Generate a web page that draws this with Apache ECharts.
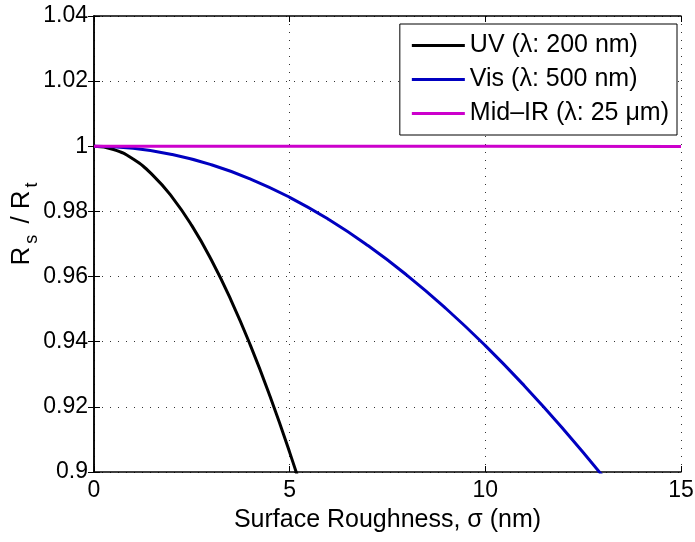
<!DOCTYPE html>
<html>
<head>
<meta charset="utf-8">
<script src="https://cdn.jsdelivr.net/npm/echarts@6/dist/echarts.min.js"></script>
<style>html,body{margin:0;padding:0;background:#fff}#c{width:695px;height:542px}</style>
</head>
<body>
<div id="c"></div>
<script>
// Data
var uvX = [0, 0.5, 1, 1.5, 2, 2.5, 3, 3.5, 4, 4.5, 5, 5.5];
var uvY = [1, 0.99901, 0.99606, 0.99116, 0.98433, 0.97563, 0.96509, 0.95279, 0.93879, 0.92317, 0.90602, 0.88743];
var visX = [0, 1, 2, 3, 4, 5, 6, 7, 8, 9, 10, 11, 12, 13];
var visY = [1, 0.99937, 0.99748, 0.99433, 0.98995, 0.98433, 0.97752, 0.96952, 0.96038, 0.95012, 0.93879, 0.92642, 0.91306, 0.89875];
var irX = [0, 5, 10, 15];
var irY = [1, 1, 0.99998, 0.99994];
var seriesNames = ['UV (\u03bb: 200 nm)', 'Vis (\u03bb: 500 nm)', 'Mid\u2013IR (\u03bb: 25 \u03bcm)'];
var xTicks = [0, 5, 10, 15];
var yTicks = [0.9, 0.92, 0.94, 0.96, 0.98, 1, 1.02, 1.04];

function pairs(xs, ys) { return xs.map(function (x, i) { return [x, ys[i]]; }); }

var FONT = '"Liberation Sans", Arial, Helvetica, sans-serif';
var FS = 23;
var chart = echarts.init(document.getElementById('c'), null, {renderer: 'canvas'});
var axisLine = {show: true, lineStyle: {color: '#000', width: 1.5}};
var grid = {show: true, lineStyle: {color: '#333', width: 1, type: [1, 7]}};
var colors = ['#000000', '#0000c0', '#cc00cc'];
var tick = {show: true, inside: true, length: 6, lineStyle: {color: '#000', width: 1}};

chart.setOption({
  animation: false,
  backgroundColor: '#fff',
  textStyle: {fontFamily: FONT},
  grid: {left: 94, right: 14, top: 16, bottom: 70, containLabel: false, outerBoundsMode: 'none'},
  legend: {
    orient: 'vertical', right: 18, top: 24,
    data: seriesNames,
    backgroundColor: '#fff', borderColor: '#000', borderWidth: 1,
    padding: [9, 8, 9, 12], itemGap: 9,
    itemWidth: 53, itemHeight: 3, icon: 'rect',
    textStyle: {fontSize: 25, color: '#000', fontFamily: FONT}
  },
  xAxis: [{
    type: 'value', min: 0, max: 15, interval: 5, position: 'bottom',
    axisLine: axisLine, axisTick: tick,
    axisLabel: {fontSize: FS, color: '#000', margin: 7, fontFamily: FONT,
      formatter: function (v) { return xTicks.indexOf(v) >= 0 ? String(v) : ''; }},
    splitLine: grid,
    name: 'Surface Roughness, \u03c3 (nm)', nameLocation: 'middle', nameGap: 36, nameMoveOverlap: false,
    nameTextStyle: {fontSize: 25, color: '#000', fontFamily: FONT}
  }, {
    type: 'value', min: 0, max: 15, interval: 5, position: 'top',
    axisLine: axisLine, axisTick: tick,
    axisLabel: {show: false}, splitLine: {show: false}
  }],
  yAxis: [{
    type: 'value', min: 0.9, max: 1.04, interval: 0.02, position: 'left',
    axisLine: axisLine, axisTick: tick,
    axisLabel: {fontSize: FS, color: '#000', margin: 6, fontFamily: FONT},
    splitLine: grid,
    name: '{n|R}{s|s}{n| / R}{s|t}', nameLocation: 'middle', nameRotate: 90, nameGap: 55, nameMoveOverlap: false,
    nameTextStyle: {
      color: '#000', fontFamily: FONT, padding: [0, 0, 0, 44],
      rich: {
        n: {fontSize: 26, fontFamily: FONT, color: '#000', lineHeight: 34, verticalAlign: 'middle'},
        s: {fontSize: 18, fontFamily: FONT, color: '#000', lineHeight: 34, verticalAlign: 'middle', padding: [20, 4, 0, 3]}
      }
    }
  }, {
    type: 'value', min: 0.9, max: 1.04, interval: 0.02, position: 'right',
    axisLine: axisLine, axisTick: tick,
    axisLabel: {show: false}, splitLine: {show: false}
  }],
  series: [
    {name: seriesNames[0], type: 'line', data: pairs(uvX, uvY), smooth: true, showSymbol: false, clip: true,
     color: colors[0], lineStyle: {color: colors[0], width: 3}},
    {name: seriesNames[1], type: 'line', data: pairs(visX, visY), smooth: true, showSymbol: false, clip: true,
     color: colors[1], lineStyle: {color: colors[1], width: 3}},
    {name: seriesNames[2], type: 'line', data: pairs(irX, irY), smooth: false, showSymbol: false, clip: true,
     color: colors[2], lineStyle: {color: colors[2], width: 3}}
  ]
});
</script>
</body>
</html>
